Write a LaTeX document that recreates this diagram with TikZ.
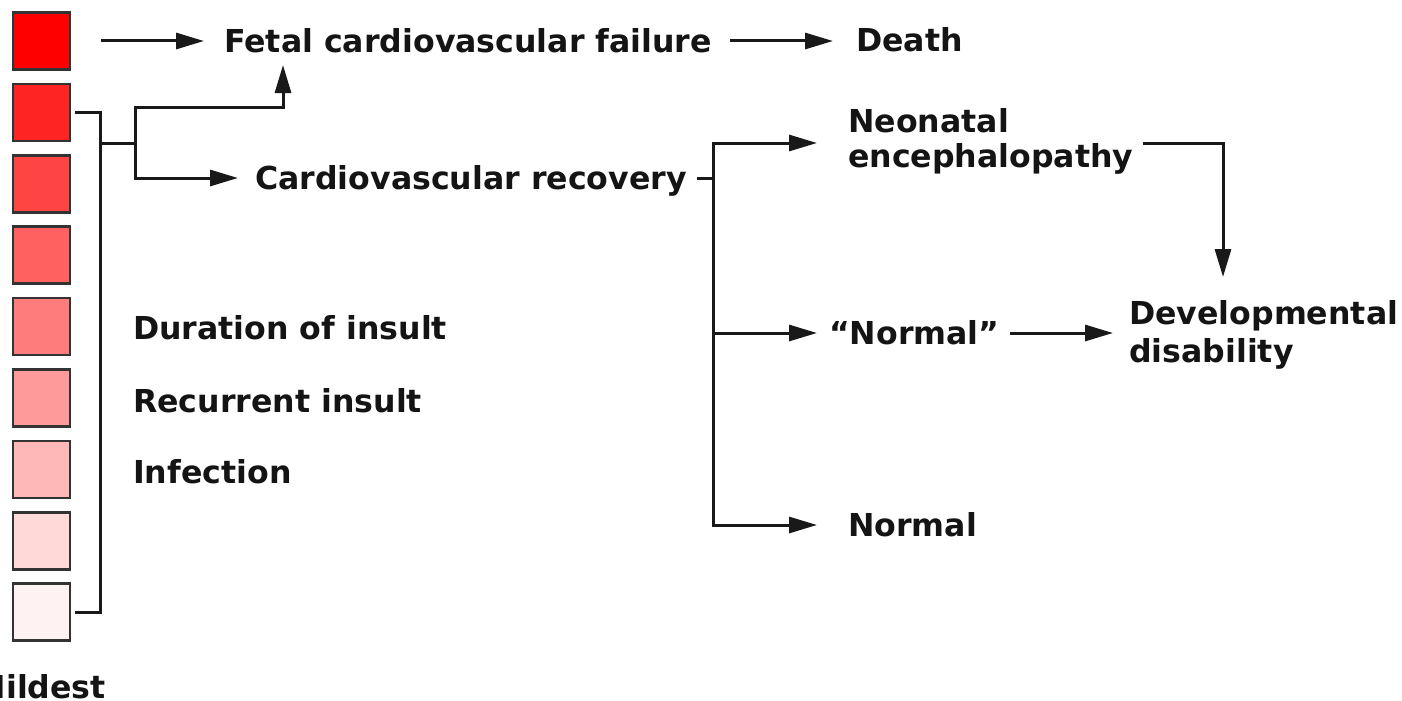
\documentclass[tikz,border=0pt]{standalone}
\usepackage{fontspec}
\setmainfont{DejaVu Sans}
\usetikzlibrary{arrows.meta}
\begin{document}
\begin{tikzpicture}[x=1pt,y=-1pt,
  lbl/.style={anchor=west,inner sep=0pt,text height=23pt,text depth=0pt,
    font=\fontsize{31.6}{37}\selectfont\bfseries,text=black!92},
  sq/.style={draw=black!80,line width=2.6pt,minimum size=57pt,inner sep=0pt},
  conn/.style={line width=3pt,draw=black!90},
  arr/.style={conn,-{Triangle[length=28pt,width=16pt]}}]
\useasboundingbox (0,0) rectangle (1402,701);
% severity squares
\definecolor{c1}{RGB}{255,0,0}
\definecolor{c2}{RGB}{255,36,36}
\definecolor{c3}{RGB}{255,68,68}
\definecolor{c4}{RGB}{255,96,96}
\definecolor{c5}{RGB}{255,124,124}
\definecolor{c6}{RGB}{255,154,154}
\definecolor{c7}{RGB}{255,184,184}
\definecolor{c8}{RGB}{255,216,216}
\definecolor{c9}{RGB}{255,242,242}
\foreach \i in {1,...,9}{
  \node[sq,fill=c\i] (s\i) at (41.5,{41+(\i-1)*71.4}) {};
}
% texts
\node[lbl] (fetal) at (224,41) {Fetal cardiovascular failure};
\node[lbl] (death) at (856,40) {Death};
\node[lbl] (recov) at (255,178) {Cardiovascular recovery};
\node[lbl] (neo1) at (848,121) {Neonatal};
\node[lbl] (neo2) at (848,156) {encephalopathy};
\node[lbl] (qnorm) at (829,333) {“Normal”};
\node[lbl] (dev1) at (1129,313) {Developmental};
\node[lbl] (dev2) at (1129,351) {disability};
\node[lbl] (norm) at (848,525) {Normal};
\node[lbl] (dur) at (133,328) {Duration of insult};
\node[lbl] (rec) at (133,401) {Recurrent insult};
\node[lbl] (inf) at (133,472) {Infection};
\node[lbl,anchor=east] (mild) at (106,687) {Mildest};
% coordinates
\coordinate (a0) at (101,41);
\coordinate (a1) at (730,41);
\coordinate (br) at (100,143);
\coordinate (j1) at (135,143);
\coordinate (j2) at (713,178);
\coordinate (n0) at (1143,143);
% connectors
\draw[arr] (a0) -- ([xshift=-20pt]fetal.west);
\draw[arr] (a1) -- ([xshift=-23pt]death.west |- a1);
\draw[conn] ([xshift=4pt]s2.east) -| (br) |- ([xshift=4pt]s9.east);
\draw[conn] (br) -- (j1);
\draw[arr] (j1) |- (283,107) -- (283,65);
\draw[arr] (j1) |- ([xshift=-17pt]recov.west);
\draw[conn] (697,178) -- (j2);
\draw[arr] (j2) |- (817,143);
\draw[arr] (j2) |- ([xshift=-12pt]qnorm.west);
\draw[arr] (j2) |- ([xshift=-31pt]norm.west);
\draw[arr] (1010,333) -- ([xshift=-16pt]dev1.west |- qnorm.west);
\draw[arr] (n0) -| (1223,277);
\end{tikzpicture}
\end{document}
